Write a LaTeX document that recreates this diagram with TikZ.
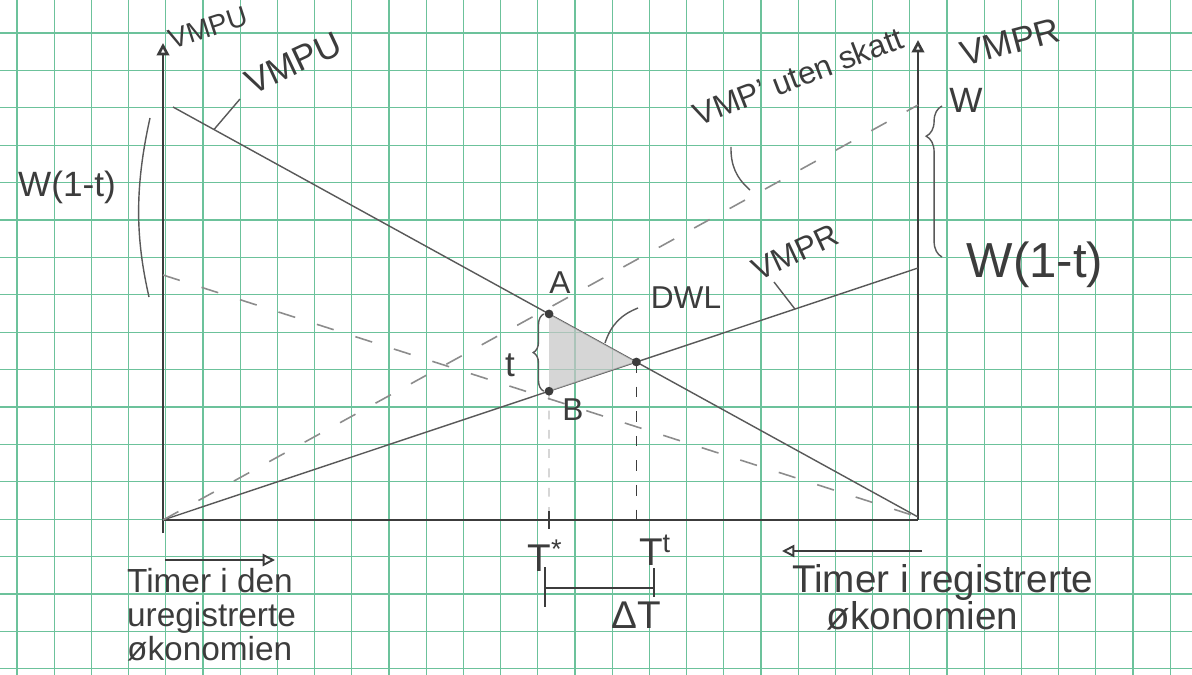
\documentclass[tikz,border=0pt]{standalone}
\usepackage{fontspec}
\setmainfont{Liberation Sans}
\usetikzlibrary{arrows.meta,calc,decorations.pathreplacing}
\definecolor{pencil}{HTML}{3C3C3C}
\definecolor{gridgreen}{HTML}{6CC29B}
\definecolor{faint}{HTML}{8C8C8C}

\begin{document}
\begin{tikzpicture}[x=0.02cm, y=-0.02cm,
  gridline/.style={draw=gridgreen, line width=0.7pt},
  axisline/.style={draw=pencil, line width=1.5pt},
  curve/.style={draw=pencil!85, line width=0.8pt},
  taxfree/.style={draw=faint, line width=0.9pt, dash pattern=on 10pt off 13pt},
  hand/.style={text=pencil, inner sep=1pt},
  tipopen/.style={-{Triangle[open, length=7pt, width=7pt]}},
  dot/.style={circle, fill=pencil, inner sep=0pt, minimum size=5pt}]

  % Background and graph paper
  \useasboundingbox (0,0) rectangle (1192,675);
  \fill[white] (0,0) rectangle (1192,675);
  \foreach \k in {0,...,31}
    \draw[gridline] ({17+37.2*\k},0) -- ({17+37.2*\k},675);
  \foreach \k in {0,...,17}
    \draw[gridline] (0,{33+37.4*\k}) -- (1192,{33+37.4*\k});

  % Axes
  \coordinate (O) at (163,520);
  \coordinate (Lb) at (163,533);
  \coordinate (Ly) at (163,43);
  \coordinate (Rx) at (918,520);
  \coordinate (Ry) at (918,40);
  \draw[axisline, tipopen] (Lb) -- (Ly);
  \draw[axisline] (O) -- (Rx);
  \draw[axisline, tipopen] (Rx) -- (Ry);

  % VMP curves
  \coordinate (U0) at (173,107);
  \coordinate (U1) at (918,517);
  \coordinate (R1) at (918,268);
  \coordinate (W0) at (918,105);
  \coordinate (L1) at (163,275);
  \draw[curve] (U0) -- (U1);
  \draw[curve] (O) -- (R1);
  \draw[taxfree] (O) -- (W0);
  \draw[taxfree] (L1) -- (U1);

  % Equilibria and wedge
  \coordinate (Ts) at (549,520);
  \coordinate (Tsup) at (549,250);
  \coordinate (E) at (intersection of U0--U1 and O--R1);
  \coordinate (A) at (intersection of U0--U1 and Ts--Tsup);
  \coordinate (B) at (intersection of O--R1 and Ts--Tsup);
  \coordinate (Tt) at (E |- O);
  \fill[gray!45, opacity=0.7] (A) -- (B) -- (E) -- cycle;
  \draw[faint, dash pattern=on 5pt off 6pt] (B) -- (Ts);
  \draw[pencil, line width=0.9pt, dash pattern=on 6pt off 8pt] (E) -- (Tt);
  \draw[pencil, line width=1pt] ([yshift=5pt]Ts) -- ([yshift=-5pt]Ts);
  \node[dot] (Adot) at (A) {};
  \node[dot] (Bdot) at (B) {};
  \node[dot] (Edot) at (E) {};
  \draw[curve, decorate, decoration={brace, amplitude=6pt, raise=3pt}] (B) -- (A);

  % Labels on the left
  \node[hand, font=\fontsize{16}{18}\selectfont, rotate=18] (vmpuAxis) at (208,28) {VMPU};
  \node[hand, font=\fontsize{20}{22}\selectfont, rotate=25] (vmpuLab) at (293,63) {VMPU};
  \coordinate (vmpuTick) at (240,99);
  \draw[curve] (vmpuTick) -- ($(U0)!0.055!(U1)$);
  \node[hand, font=\fontsize{20}{22}\selectfont] (wtLeft) at (67,187) {W(1-t)};
  \draw[curve] (150,118) .. controls (134,190) and (136,240) .. (149,297);

  % Labels on the right
  \node[hand, font=\fontsize{18}{20}\selectfont, rotate=21] (vmpFree) at (798,76) {VMP' uten skatt};
  \draw[curve] (731,147) to[bend right=25] (750,190);
  \node[hand, font=\fontsize{20}{22}\selectfont, rotate=15] (vmprAxis) at (1010,42) {VMPR};
  \node[hand, font=\fontsize{18}{20}\selectfont, rotate=25] (vmprLab) at (795,252) {VMPR};
  \coordinate (vmprTick) at (774,282);
  \draw[curve] (vmprTick) -- ($(O)!0.837!(R1)$);
  \node[hand, font=\fontsize{20}{22}\selectfont] (wLab) at (966,100) {W};
  \draw[curve, decorate, decoration={brace, amplitude=9pt, aspect=0.8}] (942,257) -- (942,106);
  \node[hand, font=\fontsize{28}{30}\selectfont] (wtRight) at (1035,265) {W(1-t)};

  % Wedge labels
  \node[hand, font=\fontsize{18}{20}\selectfont] (ALab) at (560,283) {A};
  \node[hand, font=\fontsize{18}{20}\selectfont] (BLab) at (573,410) {B};
  \node[hand, font=\fontsize{20}{22}\selectfont] (tLab) at (510,365) {t};
  \node[hand, font=\fontsize{18}{20}\selectfont] (dwlLab) at (686,298) {DWL};
  \draw[curve] (605,343) to[bend left=25] (638,308);

  % Hours on the x-axis
  \node[hand, font=\fontsize{22}{24}\selectfont] (TsLab) at (545,556) {T\textsuperscript{*}};
  \node[hand, font=\fontsize{22}{24}\selectfont] (TtLab) at (655,550) {T\textsuperscript{t}};
  \coordinate (bL1) at (545,567);
  \coordinate (bL2) at (545,607);
  \coordinate (bM) at (545,588);
  \coordinate (bR) at (654,588);
  \coordinate (bR1) at (654,568);
  \coordinate (bR2) at (654,597);
  \draw[pencil, line width=1.3pt] (bL1) -- (bL2) (bM) -- (bR) (bR1) -- (bR2);
  \node[hand, font=\fontsize{22}{24}\selectfont] (dTLab) at (636,615) {ΔT};

  % Direction of hours
  \coordinate (uArrS) at (165,560);
  \coordinate (uArrE) at (275,560);
  \coordinate (rArrS) at (922,551);
  \coordinate (rArrE) at (782,551);
  \draw[axisline, line width=1.1pt, tipopen] (uArrS) -- (uArrE);
  \draw[axisline, line width=1.1pt, tipopen] (rArrS) -- (rArrE);
  \node[hand, anchor=north west, align=left, font=\fontsize{19}{19.5}\selectfont] (uregText) at (125,566)
    {Timer i den\\uregistrerte\\økonomien};
  \node[hand, anchor=north west, align=left, font=\fontsize{22}{19}\selectfont] (regText) at (790,562)
    {Timer i registrerte\\\hspace*{0.9em}økonomien};

\end{tikzpicture}
\end{document}
